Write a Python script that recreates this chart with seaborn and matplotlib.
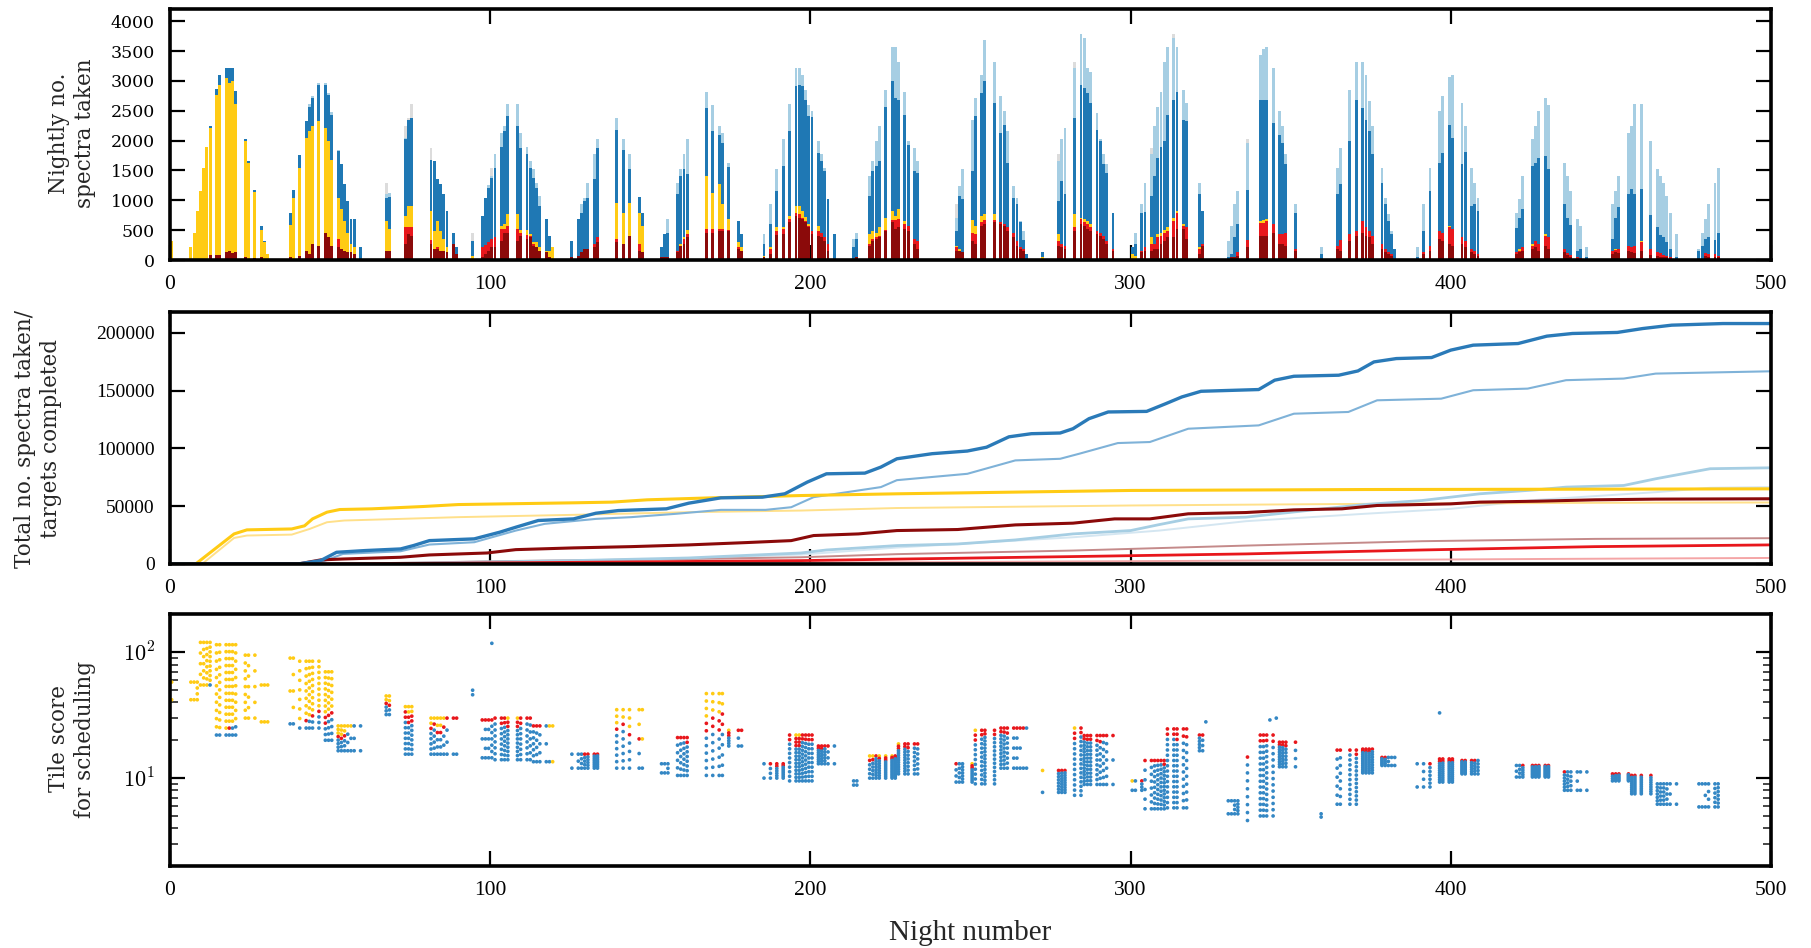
import numpy as np
import pandas as pd
import matplotlib
matplotlib.use("Agg")
import matplotlib.pyplot as plt
import seaborn as sns
from matplotlib.ticker import MultipleLocator, LogLocator, NullFormatter, FuncFormatter

# ---------------- panel 1: nightly spectra (cumulative tops of stacked layers) -------------
NIGHT = [0, 6, 7, 8, 9, 10, 11, 12, 14, 15, 17, 18, 19, 20, 23, 24, 26, 28, 29, 30,
         37, 38, 40, 42, 43, 44, 46, 48, 49, 50, 52, 53, 54, 55, 56, 57, 59,
         67, 68, 73, 74, 75, 81, 82, 83, 84, 85, 86, 88, 89,
         94, 97, 98, 99, 100, 101, 103, 104, 105, 108, 109, 111, 112, 113, 114, 115, 117, 118, 119,
         125, 127, 128, 129, 130, 132, 133, 139, 141, 143, 146, 147,
         153, 154, 155, 158, 159, 160, 161, 167, 169, 171, 172, 174, 177, 178,
         185, 187, 189, 191, 193, 195, 196, 197, 198, 199, 200, 202, 203, 204, 205, 207,
         213, 214, 218, 219, 220, 221, 223, 225, 226, 227, 229, 230, 232, 233,
         245, 246, 247, 250, 251, 253, 254, 257, 259, 260, 261, 263, 264, 265, 266, 267,
         272, 277, 278, 279, 282, 284, 285, 286, 287, 289, 290, 291, 292, 294,
         300, 301, 303, 304, 306, 307, 308, 309, 310, 311, 313, 314, 316, 317, 321, 322,
         330, 331, 332, 333, 336, 340, 341, 342, 344, 346, 347, 348, 351,
         359, 364, 365, 368, 370, 372, 373, 374, 375, 378, 379, 380, 381, 382,
         389, 391, 393, 396, 397, 399, 400, 403, 404, 406, 407, 408,
         420, 421, 422, 425, 426, 427, 429, 430, 435, 436, 437, 439, 440, 442,
         450, 451, 452, 455, 456, 457, 459, 462, 464, 465, 466, 467, 468, 470,
         477, 478, 479, 480, 482, 483]

DARKRED = [0, 0, 0, 0, 0, 0, 0, 90, 90, 90, 130, 150, 120, 140, 50, 0, 30, 50, 0, 0,
           45, 0, 70, 155, 100, 265, 240, 460, 380, 240, 220, 180, 155, 130, 130, 100, 0,
           155, 150, 270, 430, 400, 270, 180, 180, 155, 155, 130, 270, 100,
           0, 45, 100, 150, 220, 210, 320, 460, 460, 320, 405, 350, 380, 240, 210, 145, 130, 45, 0,
           55, 70, 130, 180, 180, 210, 295, 295, 265, 405, 155, 130,
           45, 55, 45, 130, 240, 265, 380, 460, 460, 490, 490, 490, 180, 155,
           45, 100, 420, 435, 630, 740, 710, 680, 630, 545, 435, 405, 380, 320, 155, 20,
           0, 45, 240, 320, 350, 380, 490, 630, 520, 545, 520, 490, 265, 180,
           155, 155, 130, 320, 265, 570, 600, 630, 600, 570, 490, 380, 240, 180, 155, 0,
           0, 240, 210, 180, 490, 600, 570, 515, 490, 435, 405, 350, 265, 155,
           0, 0, 130, 155, 155, 180, 180, 265, 320, 380, 380, 515, 515, 350, 100, 240,
           0, 55, 55, 70, 210, 405, 405, 405, 460, 265, 265, 240, 155,
           0, 180, 155, 320, 405, 460, 405, 380, 265, 180, 130, 100, 70, 0,
           0, 100, 155, 350, 320, 265, 240, 265, 210, 130, 100, 70,
           100, 130, 155, 180, 210, 155, 240, 180, 130, 90, 55, 0, 0, 0,
           100, 130, 110, 155, 130, 110, 155, 90, 70, 55, 45, 45, 0, 0,
           0, 0, 70, 55, 55, 45]

RED = [0, 0, 0, 0, 0, 0, 0, 90, 90, 90, 130, 150, 120, 140, 50, 0, 30, 50, 0, 0,
       45, 0, 70, 155, 100, 265, 240, 460, 380, 240, 350, 180, 155, 130, 130, 100, 0,
       155, 150, 545, 545, 545, 330, 180, 210, 155, 155, 130, 270, 100,
       0, 210, 250, 300, 350, 380, 515, 515, 570, 515, 460, 420, 405, 265, 210, 145, 130, 45, 0,
       55, 70, 130, 180, 180, 265, 380, 350, 265, 405, 265, 130,
       45, 55, 45, 155, 240, 350, 435, 515, 515, 515, 515, 500, 210, 155,
       45, 180, 490, 515, 680, 790, 765, 710, 655, 570, 490, 490, 460, 380, 265, 20,
       0, 45, 265, 350, 380, 405, 500, 665, 665, 680, 610, 570, 350, 320,
       210, 155, 130, 460, 435, 630, 665, 665, 630, 600, 545, 460, 320, 210, 180, 0,
       0, 320, 265, 240, 545, 680, 630, 600, 545, 490, 460, 405, 320, 180,
       0, 0, 155, 210, 265, 265, 380, 405, 445, 490, 655, 780, 570, 545, 180, 265,
       0, 55, 55, 130, 330, 625, 625, 655, 600, 435, 435, 445, 180,
       0, 240, 330, 435, 490, 655, 545, 490, 405, 265, 180, 130, 100, 0,
       0, 130, 240, 490, 460, 545, 515, 390, 320, 180, 155, 100,
       130, 155, 220, 240, 320, 265, 405, 390, 180, 110, 90, 45, 30, 0,
       155, 165, 180, 240, 210, 240, 295, 180, 130, 110, 90, 70, 55, 20,
       0, 0, 110, 100, 100, 70]

YELLOW = [320, 210, 460, 820, 1160, 1540, 1900, 2210, 2770, 2930, 3040, 2960, 2990, 2610, 1990, 1630, 1140, 500, 300, 100,
          583, 1040, 1545, 2040, 2155, 2240, 2330, 2210, 1990, 1680, 1040, 850, 650, 460, 270, 210, 0,
          650, 520, 740, 905, 905, 820, 490, 650, 490, 350, 210, 270, 100,
          60, 210, 250, 300, 350, 380, 570, 600, 765, 765, 510, 500, 435, 305, 295, 210, 155, 155, 210,
          55, 70, 130, 180, 180, 265, 380, 960, 780, 960, 780, 570,
          45, 55, 45, 155, 265, 380, 500, 1405, 1130, 1280, 935, 680, 295, 220,
          70, 220, 545, 555, 740, 905, 905, 820, 720, 600, 490, 570, 460, 380, 265, 20,
          0, 45, 430, 490, 460, 545, 710, 820, 740, 850, 655, 570, 350, 320,
          240, 180, 130, 665, 570, 740, 765, 775, 645, 600, 545, 460, 320, 210, 180, 0,
          45, 430, 265, 240, 765, 710, 680, 655, 610, 490, 460, 405, 320, 180,
          100, 70, 155, 210, 380, 265, 435, 460, 500, 545, 710, 820, 600, 545, 210, 265,
          0, 55, 55, 130, 330, 655, 665, 680, 600, 435, 435, 460, 180,
          0, 240, 330, 435, 490, 655, 545, 490, 405, 265, 180, 130, 100, 0,
          0, 130, 240, 490, 460, 570, 515, 390, 320, 180, 155, 100,
          130, 180, 220, 265, 320, 265, 435, 390, 180, 110, 90, 45, 30, 0,
          155, 180, 180, 240, 210, 240, 320, 180, 130, 110, 90, 70, 55, 20,
          0, 0, 110, 100, 100, 70]

BLUE = [320, 210, 460, 820, 1160, 1540, 1900, 2250, 2860, 3100, 3220, 3220, 3220, 2830, 2020, 1660, 1170, 570, 320, 100,
        795, 1170, 1760, 2320, 2570, 2710, 2930, 2930, 2770, 2430, 1830, 1600, 1270, 990, 680, 680, 210,
        1040, 1050, 2020, 2350, 2370, 1680, 1660, 1350, 1270, 1100, 820, 460, 220,
        320, 740, 1040, 1200, 1380, 1545, 1900, 2155, 2405, 2240, 1880, 1780, 1545, 1380, 1210, 905, 680, 405, 210,
        320, 680, 795, 990, 1040, 1350, 1880, 2180, 1850, 1520, 1055, 795,
        210, 430, 460, 1100, 1405, 1520, 1435, 2545, 2165, 2100, 1960, 1555, 655, 430,
        265, 600, 1155, 1570, 2155, 2910, 2930, 2910, 2680, 2405, 2390, 1800, 1660, 1490, 1015, 430,
        210, 350, 1070, 1490, 1570, 1660, 2555, 2990, 2710, 2680, 2430, 1930, 1490, 1460,
        490, 1070, 1015, 1490, 2405, 2800, 2990, 2630, 2130, 2265, 1630, 1040, 930, 630, 335, 100,
        130, 990, 1320, 1100, 2370, 2930, 2880, 2790, 2630, 2180, 1990, 1600, 1460, 795,
        210, 265, 795, 800, 1070, 1405, 1710, 1900, 1990, 2430, 2680, 2820, 2350, 2320, 1100, 820,
        45, 100, 380, 600, 1170, 2680, 2680, 2680, 2295, 2100, 1960, 1600, 780,
        100, 1100, 1270, 1990, 2680, 2545, 2350, 2155, 1770, 1295, 930, 655, 430, 180,
        45, 490, 1155, 1630, 1800, 2265, 2045, 1600, 1810, 905, 945, 820,
        530, 710, 860, 1570, 1630, 1710, 1740, 1520, 930, 700, 590, 155, 180, 45,
        350, 710, 880, 1110, 1185, 1110, 1185, 755, 555, 420, 380, 310, 180, 45,
        145, 240, 350, 390, 330, 460]

LIGHTBLUE = [320, 210, 460, 820, 1160, 1540, 1900, 2250, 2860, 3100, 3220, 3220, 3220, 2830, 2020, 1660, 1170, 570, 320, 100,
             795, 1170, 1760, 2320, 2620, 2750, 2960, 2970, 2800, 2480, 1850, 1600, 1270, 990, 680, 680, 210,
             1100, 1130, 2040, 2350, 2370, 1680, 1660, 1350, 1270, 1100, 820, 460, 220,
             320, 740, 1040, 1250, 1400, 1770, 2130, 2240, 2610, 2610, 2130, 1890, 1660, 1520, 1295, 1070, 680, 405, 210,
             320, 680, 930, 1040, 1295, 1770, 2020, 2370, 2020, 1770, 1055, 795,
             210, 430, 680, 1295, 1520, 1770, 2020, 2820, 2600, 2240, 2130, 1630, 655, 430,
             430, 930, 1520, 2020, 2610, 3210, 3210, 3100, 2850, 2600, 2500, 1990, 1770, 1545, 1015, 430,
             350, 460, 1405, 1660, 1990, 2240, 2850, 3570, 3570, 3320, 2820, 1990, 1880, 1660,
             700, 1240, 1520, 2350, 2710, 3100, 3680, 3320, 2740, 2490, 2155, 1240, 1040, 655, 490, 100,
             130, 1660, 2020, 2210, 3210, 3790, 3710, 3210, 3150, 2460, 2020, 1770, 1600, 795,
             210, 460, 930, 1295, 1770, 2240, 2570, 2820, 3320, 3570, 3710, 3570, 2850, 2630, 1295, 820,
             320, 570, 930, 1155, 1960, 3430, 3540, 3570, 3210, 2490, 2240, 1770, 930,
             210, 1545, 1880, 2850, 3320, 3320, 3100, 2655, 2240, 1545, 1040, 765, 490, 180,
             210, 930, 1545, 2490, 2740, 3070, 3100, 2630, 2240, 1545, 1295, 1040,
             795, 1015, 1405, 2020, 2240, 2490, 2720, 2600, 1630, 1405, 1155, 680, 570, 210,
             930, 1155, 1405, 2130, 2240, 2610, 2610, 1990, 1520, 1405, 1295, 1070, 795, 430,
             180, 445, 680, 930, 1295, 1545]

GREY_NIGHT = [67, 73, 74, 75, 81, 94, 100, 245, 277, 282, 306, 313, 336]
GREY_TOP = [1290, 2240, 2380, 2610, 1880, 460, 1540, 930, 1770, 3320, 1880, 3790, 2020]

# ---------------- panel 2: cumulative totals (values in thousands) -----------------------
BLUE_SPEC_N = [0, 40, 47, 52, 61, 72, 76, 81, 95, 103, 108, 115, 126, 133, 140, 155, 162, 172, 185, 192,
               199, 205, 217, 222, 227, 238, 249, 255, 262, 269, 278, 282, 287, 293, 305, 311, 316, 322, 340, 345,
               351, 365, 371, 376, 383, 394, 400, 407, 421, 430, 438, 452, 460, 469, 485, 500]
BLUE_SPEC_V = [0, 0, 2.9, 10.1, 11.6, 13.0, 15.9, 20.2, 21.7, 27.5, 31.8, 37.6, 39.0, 43.9, 46.2, 47.7, 52.6, 57.2, 57.8, 60.7,
               70.8, 78.0, 78.6, 83.8, 91, 95.4, 97.7, 101, 110, 112.7, 113.3, 117, 125.7, 131.5, 132, 138.7, 144.5, 149.4, 150.9, 159,
               162.4, 163.3, 167, 174.8, 177.7, 178.6, 185, 189.3, 190.7, 197.1, 199.4, 200.3, 203.7, 206.6, 208, 208]
BLUE_DONE_N = [0, 45, 47, 54, 72, 81, 95, 108, 117, 133, 144, 158, 172, 186, 194, 201, 208, 222, 227, 249,
               264, 278, 284, 296, 306, 318, 340, 351, 368, 377, 397, 407, 424, 436, 454, 464, 500]
BLUE_DONE_V = [0, 0, 1.4, 8.7, 11.0, 16.8, 18.8, 28.9, 34.7, 39.0, 40.5, 43.4, 46.8, 46.8, 49.1, 57.8, 60.7, 66.5, 72.5, 78.0,
               89.6, 91.0, 95.4, 104.6, 105.5, 117, 119.9, 130, 131.5, 141.6, 143, 150.3, 151.7, 159, 160.4, 164.7, 166.7]
LBLUE_SPEC_N = [0, 60, 126, 162, 197, 205, 227, 246, 264, 282, 300, 309, 318, 336, 355, 373, 391, 400, 409, 427,
                436, 454, 464, 481, 500]
LBLUE_SPEC_V = [0, 0, 2.9, 5.2, 9.5, 12.1, 15.9, 17.3, 20.8, 26.0, 28.9, 34.1, 39.0, 40.5, 46.2, 51.4, 54.9, 57.8, 60.7, 64.2,
                66.5, 67.9, 73.7, 82.4, 83.2]
LBLUE_DONE_N = [0, 60, 126, 197, 227, 282, 309, 336, 373, 400, 427, 464, 481, 500]
LBLUE_DONE_V = [0, 0, 2.0, 8.1, 14.2, 23.1, 28.9, 37.0, 43.4, 47.7, 55.5, 62.1, 65.9, 66.5]
YEL_SPEC_N = [0, 8, 20, 24, 38, 42, 44.5, 49, 53, 63, 79, 90, 126, 138, 149, 169, 197, 227, 300, 373, 445, 500]
YEL_SPEC_V = [0, 0, 26, 29.5, 30.3, 33, 39, 44.8, 47.1, 47.7, 49.7, 51.4, 52.9, 53.5, 55.5, 57.2, 59.2, 60.7, 63.6, 64.4, 64.7, 65]
YEL_DONE_N = [0, 10, 20, 24, 38, 43.6, 49, 54.4, 72, 90, 126, 162, 197, 227, 300, 373, 445, 500]
YEL_DONE_V = [0, 0, 22.5, 24.6, 25.4, 30.3, 36.1, 37.6, 39.0, 40.5, 42.5, 44.8, 46.2, 48.4, 50.6, 52.0, 52.9, 53.2]
DRED_SPEC_N = [0, 40, 47, 54, 72, 81, 99, 108, 126, 144, 162, 180, 194, 201, 215, 227, 246, 264, 282, 295,
               306, 318, 336, 351, 366, 377, 400, 409, 427, 445, 464, 500]
DRED_SPEC_V = [0, 0, 3.5, 4.3, 5.8, 7.8, 9.5, 12.4, 13.9, 15.0, 16.5, 18.5, 20.2, 24.6, 26.0, 28.9, 29.8, 33.8, 35.3, 39.0,
               39.0, 43.4, 44.5, 46.8, 47.7, 50.6, 52.0, 53.5, 54.3, 55.5, 56.1, 56.4]
DRED_DONE_N = [0, 50, 108, 162, 197, 227, 282, 336, 391, 445, 500]
DRED_DONE_V = [0, 0, 2.6, 4.3, 5.8, 8.5, 11.6, 15.9, 19.7, 21.7, 22.3]
RED_SPEC_N = [0, 50, 126, 197, 227, 282, 336, 391, 445, 500]
RED_SPEC_V = [0, 0, 1.4, 2.9, 4.2, 6.4, 8.7, 12.1, 15.0, 16.5]
RED_DONE_N = [0, 60, 227, 336, 427, 500]
RED_DONE_V = [0, 0, 1.4, 2.9, 4.3, 5.2]

# ---------------- panel 3: tile scores (ranges of score per block of nights) -------------
SC_START = [0, 9, 13, 21, 27, 36, 40, 47, 52, 66, 72, 80, 93, 97, 101, 113, 124, 138, 152, 157,
            166, 174, 184, 192, 201, 212, 216, 227, 244, 251, 258, 271, 280, 285, 299, 304, 311, 319,
            329, 335, 340, 346, 358, 363, 372, 378, 388, 394, 401, 419, 431, 449, 456, 463, 476]
SC_END = [8, 12, 20, 26, 31, 39, 46, 51, 60, 69, 76, 90, 96, 100, 112, 120, 134, 148, 156, 162,
          173, 179, 191, 200, 208, 215, 226, 234, 250, 257, 268, 279, 284, 295, 303, 310, 318, 323,
          334, 339, 345, 352, 361, 371, 377, 383, 393, 400, 409, 430, 443, 455, 462, 471, 485]
SC_LO = [42, 55, 22, 30, 28, 27, 25, 20, 16.5, 32, 15.5, 15.5, 46, 14.5, 14, 13.5, 12, 12, 11, 10.5,
         10.5, 18, 10, 9.5, 13, 8.8, 10, 10.8, 9.3, 9, 12, 7.7, 7.3, 8.9, 8, 5.7, 5.8, 16.5,
         5.2, 4.6, 5, 12.3, 4.9, 6.2, 11, 12.6, 8.5, 9.3, 10.8, 10.2, 8, 9.5, 7.5, 6.2, 5.9]
SC_HI = [58, 120, 115, 95, 55, 90, 85, 70, 26, 45, 37, 30, 50, 29, 30, 26, 15.5, 35, 13, 21,
         47, 24, 13, 22, 18, 9.5, 15, 18.7, 13, 24, 25, 11.5, 25, 21.8, 9.5, 13.8, 24.6, 22,
         6.6, 14.7, 22, 19.3, 5.2, 16.7, 17, 14.6, 13, 14.2, 13.8, 12.6, 11.2, 10.8, 10.5, 9, 9]
OUT_NIGHT = [100, 396, 323, 343, 345]
OUT_SCORE = [118, 33, 28, 29, 30]

assert len(NIGHT) == len(DARKRED) == len(RED) == len(YELLOW) == len(BLUE) == len(LIGHTBLUE)

# ---------------- colours ----------------
C_LBLUE = "#a6cee3"
C_BLUE = "#1f78b4"
C_YEL = "#ffcb14"
C_RED = "#e8171c"
C_DRED = "#8b0a0a"
C_GREY = "#dcdcdc"

sns.set_theme(style="ticks")
plt.rcParams['font.family'] = ['DejaVu Serif']
plt.rcParams['mathtext.fontset'] = 'cm'

fig = plt.figure(figsize=(18.11, 9.48), dpi=100)
L, W = 0.0939, 0.8840
ax1 = fig.add_axes([L, 0.7257, W, 0.2646])
ax2 = fig.add_axes([L, 0.4051, W, 0.2658])
ax3 = fig.add_axes([L, 0.0865, W, 0.2653])

xs = np.array(NIGHT, dtype=float) + 0.5
grey_map = dict(zip(GREY_NIGHT, GREY_TOP))
grey_full = [max(grey_map.get(n, 0), lb) for n, lb in zip(NIGHT, LIGHTBLUE)]

for tops, col in [(grey_full, C_GREY), (LIGHTBLUE, C_LBLUE), (BLUE, C_BLUE),
                  (YELLOW, C_YEL), (RED, C_RED), (DARKRED, C_DRED)]:
    sns.barplot(x=xs, y=np.array(tops, dtype=float), native_scale=True, color=col,
                width=0.9, errorbar=None, saturation=1, linewidth=0, ax=ax1)
# make every bar 0.9 night wide, centred on its night
BAR_W = 0.9
for p in ax1.patches:
    cx = p.get_x() + p.get_width() / 2.0
    p.set_width(BAR_W)
    p.set_x(cx - BAR_W / 2.0)

# panel 2 lines
lines = [
    (LBLUE_DONE_N, LBLUE_DONE_V, "#d4e6f1", 1.4),
    (RED_DONE_N, RED_DONE_V, "#f4a5a6", 1.4),
    (DRED_DONE_N, DRED_DONE_V, "#c48a8a", 1.4),
    (YEL_DONE_N, YEL_DONE_V, "#ffe08a", 1.4),
    (BLUE_DONE_N, BLUE_DONE_V, "#7fb2d8", 1.5),
    (LBLUE_SPEC_N, LBLUE_SPEC_V, C_LBLUE, 2.0),
    (RED_SPEC_N, RED_SPEC_V, C_RED, 2.0),
    (DRED_SPEC_N, DRED_SPEC_V, C_DRED, 2.2),
    (YEL_SPEC_N, YEL_SPEC_V, C_YEL, 2.2),
    (BLUE_SPEC_N, BLUE_SPEC_V, "#2a7ab8", 2.4),
]
for nn, vv, col, lw in lines:
    sns.lineplot(x=np.array(nn, dtype=float), y=np.array(vv) * 1000.0, color=col, linewidth=lw,
                 estimator=None, sort=False, ax=ax2)

# panel 3 scatter
rows = []
for s, e, lo, hi in zip(SC_START, SC_END, SC_LO, SC_HI):
    for i, n in enumerate(NIGHT):
        if s <= n <= e:
            total = float(max(LIGHTBLUE[i], grey_full[i]))
            k = max(2, int(round(total / 230.0)))
            ys = np.geomspace(hi, lo, k)
            ny = int(round(k * (YELLOW[i] - RED[i]) / total))
            nr = int(round(k * 0.8 * RED[i] / total))
            for j, yv in enumerate(ys):
                cat = "y" if j < ny else ("r" if j < ny + nr else "b")
                rows.append((n + 0.5, yv, cat))
for n, sc in zip(OUT_NIGHT, OUT_SCORE):
    rows.append((n + 0.5, sc, "b"))
df = pd.DataFrame(rows, columns=["night", "score", "cat"])
sns.scatterplot(data=df, x="night", y="score", hue="cat", hue_order=["b", "r", "y"],
                palette={"b": "#3487c4", "r": C_RED, "y": C_YEL}, s=7, linewidth=0,
                legend=False, ax=ax3)
ax3.set_yscale("log")


def style(ax):
    for sp in ax.spines.values():
        sp.set_visible(True)
        sp.set_linewidth(2.6)
        sp.set_color("black")
    ax.set_xlim(0, 500)
    ax.xaxis.set_major_locator(MultipleLocator(100))
    ax.tick_params(which="major", direction="in", length=11, width=1.6, top=True, right=True,
                   bottom=True, left=True, pad=11, colors="black")
    ax.set_xlabel("")
    ax.set_ylabel("")
    ax.grid(False)
    ax.set_facecolor("white")


for ax in (ax1, ax2, ax3):
    style(ax)

ax1.set_ylim(0, 4200)
ax1.yaxis.set_major_locator(MultipleLocator(500))
ax2.set_ylim(0, 218000)
ax2.yaxis.set_major_locator(MultipleLocator(50000))
ax2.yaxis.set_major_formatter(FuncFormatter(lambda v, p: "%d" % v))
ax3.set_ylim(2, 200)
ax3.yaxis.set_major_locator(LogLocator(base=10))
ax3.yaxis.set_minor_locator(LogLocator(base=10, subs=np.arange(2, 10)))
ax3.yaxis.set_minor_formatter(NullFormatter())
ax3.yaxis.set_major_formatter(FuncFormatter(lambda v, p: r"$10^{%d}$" % int(round(np.log10(v)))))
ax3.tick_params(which="minor", direction="in", length=6, width=1.2, left=True, right=True,
                top=False, bottom=False)

fig.canvas.draw()
for ax in (ax1, ax2, ax3):
    for t in ax.get_xticklabels():
        t.set_fontfamily("Liberation Serif")
        t.set_fontsize(15.5)
for t in ax1.get_yticklabels():
    t.set_fontfamily("DejaVu Serif")
    t.set_fontsize(12.5)
for t in ax2.get_yticklabels():
    t.set_fontfamily("Liberation Serif")
    t.set_fontsize(14)
for t in ax3.get_yticklabels():
    t.set_fontsize(16)

lab_kw = dict(rotation=90, ha="center", va="center", fontsize=15.5, family="DejaVu Serif",
              linespacing=1.2, multialignment="center")
fig.text(72 / 1811, 1 - 133 / 948, "Nightly no.\nspectra taken", **lab_kw)
fig.text(38 / 1811, 1 - 439 / 948, "Total no. spectra taken/\ntargets completed", **lab_kw)
fig.text(72 / 1811, 1 - 739 / 948, "Tile score\nfor scheduling", **lab_kw)
fig.text(970 / 1811, 1 - 933 / 948, "Night number", ha="center", va="center", fontsize=21,
         family="Liberation Serif")

fig.savefig("out.png", dpi=100, facecolor="white")
